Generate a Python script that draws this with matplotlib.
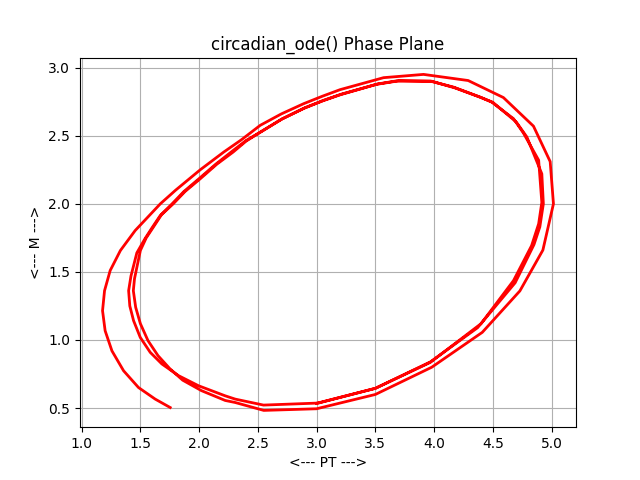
import matplotlib
matplotlib.use("Agg")
import matplotlib.pyplot as plt

# Digitized trajectory (PT, M), in time order
loop1_pt = [1.754, 1.626, 1.484, 1.357, 1.258, 1.20, 1.178, 1.195, 1.243, 1.33,
            1.456, 1.55, 1.67, 1.80, 2.01, 2.21, 2.36, 2.52, 2.70, 2.89, 3.05,
            3.20, 3.57, 3.91, 4.29, 4.59, 4.846, 4.988, 5.016, 4.926, 4.73,
            4.41, 3.98, 3.50, 3.00, 2.55, 2.307, 2.222, 2.02, 1.86, 1.75,
            1.65, 1.565, 1.50, 1.46, 1.44]
loop1_m = [0.504, 0.566, 0.651, 0.774, 0.92, 1.068, 1.215, 1.362, 1.51, 1.657,
           1.804, 1.89, 2.00, 2.10, 2.25, 2.38, 2.47, 2.576, 2.66, 2.735, 2.79,
           2.838, 2.926, 2.95, 2.905, 2.78, 2.57, 2.31, 2.00, 1.66, 1.36,
           1.056, 0.80, 0.60, 0.495, 0.483, 0.541, 0.556, 0.628, 0.705, 0.79,
           0.885, 0.995, 1.12, 1.24, 1.362]

loop2_pt = [1.45, 1.50, 1.55, 1.61, 1.68, 1.78, 1.88, 2.01, 2.15, 2.29, 2.40,
            2.52, 2.70, 2.89, 3.05, 3.20, 3.51, 3.68, 3.97, 4.165, 4.39,
            4.49, 4.676, 4.76, 4.89, 4.917, 4.89, 4.83, 4.676, 4.40, 3.967,
            3.50, 3.016, 2.548, 2.307, 2.222, 1.995, 1.825, 1.683, 1.584,
            1.499, 1.442, 1.41, 1.40]
loop2_m = [1.45, 1.657, 1.75, 1.828, 1.92, 2.00, 2.09, 2.184, 2.29, 2.38, 2.46,
           2.526, 2.62, 2.70, 2.755, 2.80, 2.877, 2.90, 2.90, 2.857, 2.784,
           2.747, 2.625, 2.52, 2.32, 2.01, 1.853, 1.693, 1.436, 1.12, 0.835,
           0.645, 0.537, 0.522, 0.566, 0.59, 0.664, 0.738, 0.824, 0.909,
           1.019, 1.142, 1.25, 1.362]

loop3_pt = [1.42, 1.47, 1.54, 1.60, 1.67, 1.77, 1.87, 2.00, 2.14, 2.28, 2.40,
            2.53, 2.71, 2.90, 3.06, 3.21, 3.52, 3.70, 3.98, 4.18, 4.40,
            4.50, 4.70, 4.79, 4.917, 4.93, 4.90, 4.85, 4.69, 4.37, 3.97,
            3.50, 3.00]
loop3_m = [1.47, 1.64, 1.745, 1.825, 1.915, 2.00, 2.09, 2.185, 2.29, 2.385, 2.465,
           2.53, 2.625, 2.705, 2.76, 2.805, 2.88, 2.905, 2.90, 2.85, 2.78,
           2.745, 2.60, 2.49, 2.22, 2.00, 1.83, 1.70, 1.42, 1.09, 0.84,
           0.645, 0.535]

pt = loop1_pt + loop2_pt + loop3_pt
m = loop1_m + loop2_m + loop3_m

fig, ax = plt.subplots(figsize=(6.4, 4.8), dpi=100)
ax.plot(pt, m, color="red", linewidth=2)
ax.set_title("circadian_ode() Phase Plane")
ax.set_xlabel("<--- PT --->")
ax.set_ylabel("<--- M --->")
ax.grid(True)
fig.savefig("out.png", dpi=100)
